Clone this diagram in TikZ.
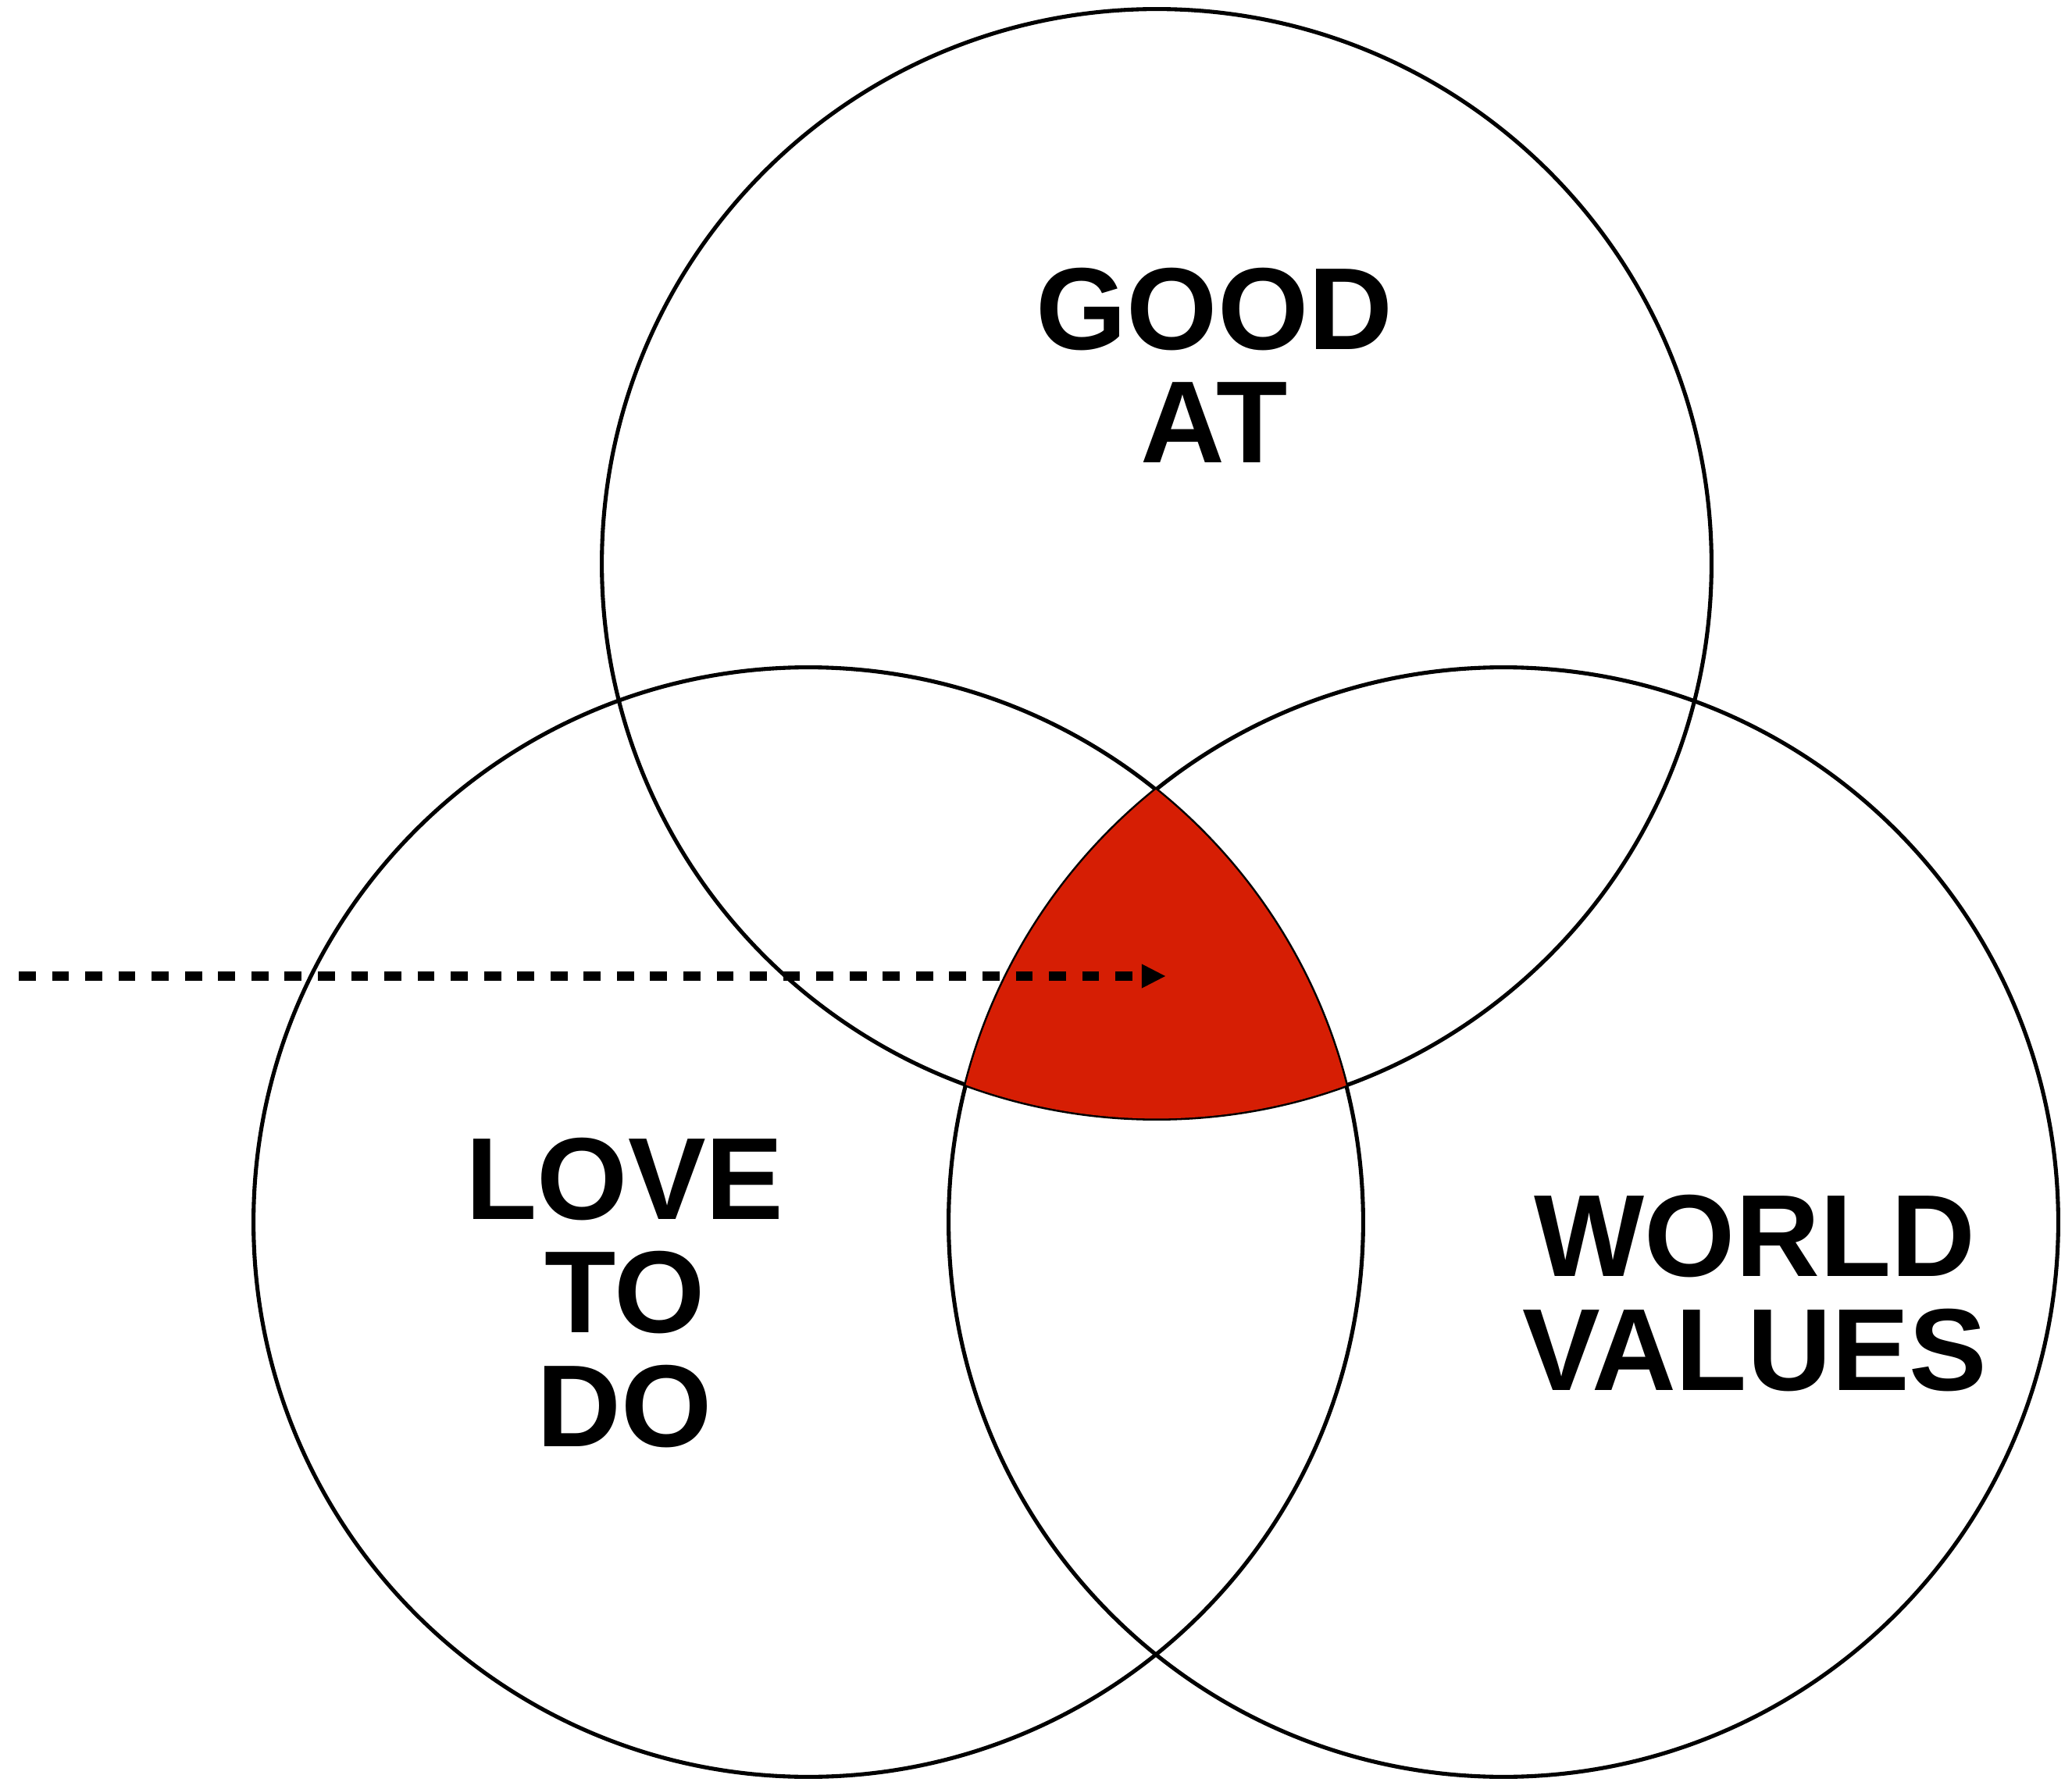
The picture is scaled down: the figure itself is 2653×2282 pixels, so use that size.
\documentclass[tikz,border=0pt]{standalone}
\usepackage{fontspec}
\setmainfont{Liberation Sans}
\definecolor{corered}{RGB}{214, 30, 4}
\usetikzlibrary{arrows.meta}

\begin{document}
\begin{tikzpicture}[x=0.01cm, y=-0.01cm,
    ring/.style={line width=1.45pt},
    biglabel/.style={font=\fontsize{42.5}{41.3}\selectfont\bfseries, align=center, anchor=base}]
  \useasboundingbox (0,0) rectangle (2653,2282);
  \coordinate (topc) at (1481,722);
  \coordinate (leftc) at (1035,1565);
  \coordinate (rightc) at (1925,1565);

  % Circles
  \draw[ring] (topc) circle[radius=7.1cm];
  \draw[ring] (leftc) circle[radius=7.1cm];
  \draw[ring] (rightc) circle[radius=7.1cm];

  % Overlap of all three
  \begin{scope}
    \clip (topc) circle[radius=7.1cm];
    \clip (leftc) circle[radius=7.1cm];
    \fill[corered] (rightc) circle[radius=7.1cm];
  \end{scope}

  % Labels
  \node[biglabel] (good) at (1555,593) {GOOD\\AT};
  \node[biglabel] (love) at (800,1852) {LOVE\\TO\\DO};
  \node[biglabel] (world) at (2247,1780) {WORLD\\VALUES};

  % Dashed arrow
  \coordinate (start) at (24,1250);
  \coordinate (core) at (1492,1250);
  \draw[line width=3.2pt, dash pattern=on 6.2pt off 5.9pt, -{Triangle[length=0.3cm, width=0.31cm, line width=0pt]}] (start) -- (core);
\end{tikzpicture}
\end{document}
